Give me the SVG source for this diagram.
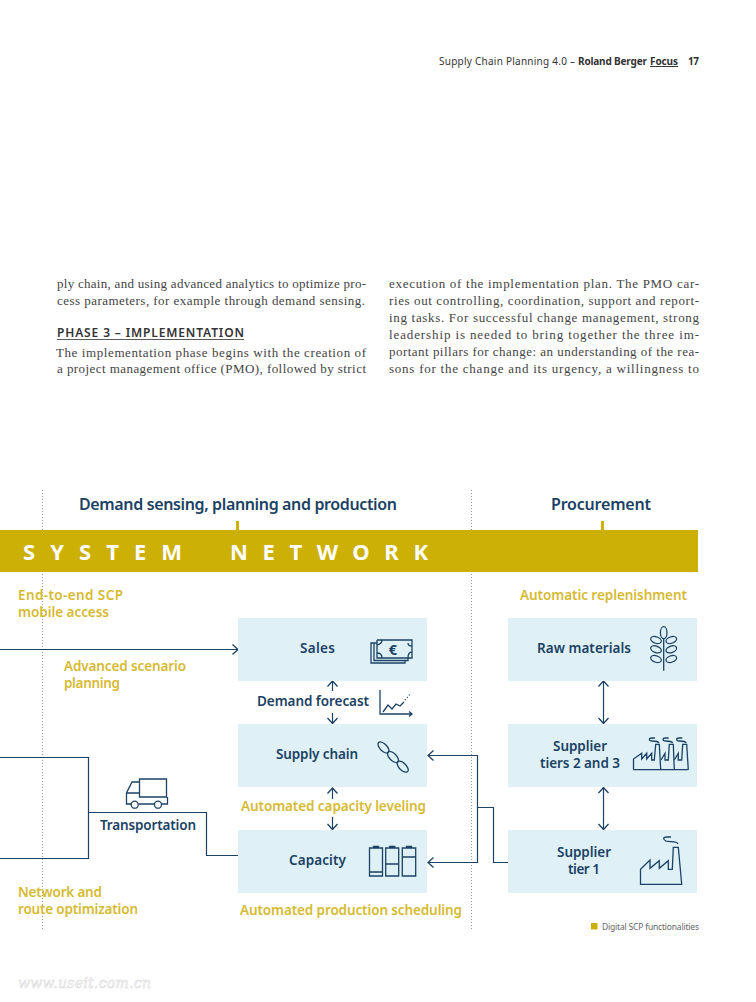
<svg xmlns="http://www.w3.org/2000/svg" width="756" height="1002" viewBox="0 0 756 1002">
<style>
text{font-family:"Noto Sans","Liberation Sans",sans-serif}
.body{font-family:"Liberation Serif",serif;font-size:13px;fill:#444}
.hd{font-size:10px;fill:#333}
.nb{font-size:13.500px;font-weight:600;fill:#1b4264}
.h{font-size:16px;font-weight:600;fill:#1b4264}
.g{font-size:13.500px;font-weight:600;fill:#d6ba32}
.band{font-size:22px;font-weight:700;fill:#fff}
.box{fill:#dff1f7}
.dot{stroke:#999;stroke-width:1;stroke-dasharray:1 2;fill:none}
.ln{stroke:#1b4264;stroke-width:1.2;fill:none}
.ic{stroke:#1b4264;stroke-width:1.300;fill:none}
.tick{fill:#cdb006}
</style>
<defs>
<marker id="a" viewBox="0 0 10 12" markerWidth="10" markerHeight="12" refX="9" refY="6" orient="auto-start-reverse" markerUnits="userSpaceOnUse"><path d="M3.500 1L9 6L3.500 11" fill="none" stroke="#1b4264" stroke-width="1.300"/></marker>
</defs>
<rect width="756" height="1002" fill="#fff"/>

<g id="header">
<text class="hd" x="439" y="65" textLength="136">Supply Chain Planning 4.0 –</text>
<text class="hd" x="578" y="65" textLength="69" style="font-weight:700">Roland Berger</text>
<text class="hd" x="650" y="65" textLength="28" style="font-weight:700" text-decoration="underline">Focus</text>
<text class="hd" x="688" y="65" textLength="11" style="font-weight:700">17</text>
</g>

<g id="body-text">
<text class="body" x="57" y="288" textLength="309">ply chain, and using advanced analytics to optimize pro-</text>
<text class="body" x="57" y="305" textLength="308">cess parameters, for example through demand sensing.</text>
<text x="57" y="337" textLength="187" style="font-size:12px;font-weight:600;fill:#333">PHASE 3 – IMPLEMENTATION</text>
<rect x="57" y="339" width="187" height="0.8" fill="#333"/>
<text class="body" x="56" y="357" textLength="310">The implementation phase begins with the creation of</text>
<text class="body" x="57" y="373" textLength="309">a project management office (PMO), followed by strict</text>
<text class="body" x="389" y="288" textLength="310">execution of the implementation plan. The PMO car-</text>
<text class="body" x="389" y="305" textLength="310">ries out controlling, coordination, support and report-</text>
<text class="body" x="389" y="322" textLength="310">ing tasks. For successful change management, strong</text>
<text class="body" x="389" y="339" textLength="310">leadership is needed to bring together the three im-</text>
<text class="body" x="389" y="356" textLength="310">portant pillars for change: an understanding of the rea-</text>
<text class="body" x="389" y="373" textLength="310">sons for the change and its urgency, a willingness to</text>
</g>

<g id="dividers">
<path class="dot" d="M42.500 490V930M471.500 490V930"/>
</g>

<g id="headings">
<text class="h" x="79" y="510" textLength="318">Demand sensing, planning and production</text>
<text class="h" x="551" y="510" textLength="100">Procurement</text>
</g>

<g id="system-network">
<rect class="tick" x="236" y="521" width="3" height="9"/>
<rect class="tick" x="601" y="521" width="3" height="9"/>
<rect x="0" y="530" width="698" height="42" fill="#cdb006"/>
<text class="band" x="23" y="560" textLength="159">SYSTEM</text>
<text class="band" x="230" y="560" textLength="198">NETWORK</text>
</g>

<g id="connectors">
<path class="ln" d="M0 649.500H238" marker-end="url(#a)"/>
<path class="ln" d="M0 757.500H88.500V858.500H0"/>
<path class="ln" d="M89 812.500H206.500V855.500H238.500"/>
<path class="ln" d="M428 755.500H477.500V862.500H428" marker-start="url(#a)" marker-end="url(#a)"/>
<path class="ln" d="M478 807.500H493.500V862.500H509"/>
<path class="ln" d="M332.500 691V681" marker-end="url(#a)"/>
<path class="ln" d="M332.500 713V723.500" marker-end="url(#a)"/>
<path class="ln" d="M332.500 799V788" marker-end="url(#a)"/>
<path class="ln" d="M332.500 817V829.500" marker-end="url(#a)"/>
<path class="ln" d="M603.500 681V723.500" marker-start="url(#a)" marker-end="url(#a)"/>
<path class="ln" d="M603.500 787.500V829.500" marker-start="url(#a)" marker-end="url(#a)"/>
</g>

<g id="sales">
<rect class="box" x="238" y="618" width="189" height="63"/>
<text class="nb" x="300" y="653" textLength="35">Sales</text>
<path class="ic" d="M377 640H412V646Q408 646 408 643M377 640V658H412V640M377 640H382Q382 644 377 645M412 652Q408 652 408 658M377 653Q382 653 382 658" stroke-width="1.500"/>
<path class="ic" d="M377 643H374V660.500H408V658M374 643H371V663H405V660.500" stroke-width="1.500"/>
<text x="393" y="654.500" text-anchor="middle" style="font-size:14.500px;font-weight:700;fill:#1b4264">€</text>
</g>

<g id="demand-forecast">
<text class="nb" x="257" y="706" textLength="112">Demand forecast</text>
<path class="ic" d="M380 690V714H411M409 711.500L412 714L409 716.500"/>
<path class="ic" d="M383 712L388 705L392 709L396 704L400 706L404 702"/>
<path class="ic" d="M405 700L411 693" stroke-dasharray="1 2"/>
</g>

<g id="supply-chain">
<rect class="box" x="238" y="724" width="189" height="63"/>
<text class="nb" x="276" y="759" textLength="82">Supply chain</text>
<ellipse class="ic" cx="383.500" cy="747.500" rx="7" ry="3.500" transform="rotate(45 383.500 747.500)"/>
<ellipse class="ic" cx="393" cy="757" rx="7" ry="3.500" transform="rotate(45 393 757)"/>
<ellipse class="ic" cx="402.700" cy="766.700" rx="7" ry="3.500" transform="rotate(45 402.700 766.700)"/>
</g>

<g id="transportation">
<text class="nb" x="100" y="830" textLength="96">Transportation</text>
<path class="ic" d="M139.500 779H166.500V797H139.500ZM139.500 782H132L126.500 793V804H131M138.500 804H154.500M161.500 804H167.500V797M126.500 793H139.500"/>
<circle class="ic" cx="134.700" cy="804.700" r="3.500"/>
<circle class="ic" cx="158" cy="804.700" r="3.500"/>
</g>

<g id="capacity">
<rect class="box" x="238" y="830" width="189" height="63"/>
<text class="nb" x="289" y="865" textLength="57">Capacity</text>
<path class="ic" d="M369.500 848H382.500V876H369.500ZM373.500 848V846.500H378.500V848M369.500 872H382.500"/>
<path class="ic" d="M385.700 848H398.700V876H385.700ZM389.700 848V846.500H394.700V848M385.700 864H398.700"/>
<path class="ic" d="M402.300 848H415.700V876H402.300ZM406.500 848V846.500H411.500V848M402.300 857H415.700"/>
</g>

<g id="raw-materials">
<rect class="box" x="508" y="618" width="189" height="63"/>
<text class="nb" x="537" y="653" textLength="94">Raw materials</text>
<path class="ic" d="M663.700 639V670.700"/>
<ellipse class="ic" cx="663.700" cy="632.700" rx="3.300" ry="6"/>
<ellipse class="ic" cx="656" cy="640" rx="5.500" ry="3.200" transform="rotate(20 656 640)"/>
<ellipse class="ic" cx="671.300" cy="640" rx="5.500" ry="3.200" transform="rotate(-20 671.300 640)"/>
<ellipse class="ic" cx="656" cy="649.300" rx="5.500" ry="3.200" transform="rotate(20 656 649.300)"/>
<ellipse class="ic" cx="671.300" cy="649.300" rx="5.500" ry="3.200" transform="rotate(-20 671.300 649.300)"/>
<ellipse class="ic" cx="656" cy="659" rx="5.500" ry="3.200" transform="rotate(20 656 659)"/>
<ellipse class="ic" cx="671.300" cy="659" rx="5.500" ry="3.200" transform="rotate(-20 671.300 659)"/>
</g>

<g id="supplier-tiers-2-3">
<rect class="box" x="508" y="724" width="189" height="63"/>
<text class="nb" x="553" y="751" textLength="54">Supplier</text>
<text class="nb" x="540" y="768" textLength="80">tiers 2 and 3</text>
<path class="ic" d="M633.500 769.700V759L641.700 753.300V759L646.700 753.300V759L651.700 753.300V760H654.300L655.700 744.300H659.300L660.700 769.700M633.500 769.700H688.300"/>
<path class="ic" d="M661 760L665 753.300V760H668.300L669.300 744.300H673.300L674.300 769.700"/>
<path class="ic" d="M674.300 760L678.300 753.300V760H681.700L682.700 744.300H686.700L688.300 769.700"/>
<path class="ic" d="M659 743C658 741 655 741 652 741C648.500 741 648.500 738 652 738H655M672.700 743C671.700 741 668.700 741 665.700 741C662.200 741 662.200 738 665.700 738H668.700M686.300 743C685.300 741 682.300 741 679.300 741C675.800 741 675.800 738 679.300 738H682.300"/>
</g>

<g id="supplier-tier-1">
<rect class="box" x="508" y="830" width="189" height="63"/>
<text class="nb" x="557" y="857" textLength="54">Supplier</text>
<text class="nb" x="568" y="874" textLength="32">tier 1</text>
<path class="ic" d="M640.500 884.300V869.300L650 860V868.300L659.300 860.700V868.300L668.300 860.700V869.300H672.300L673.300 847.300H678.300L681.700 884.300Z"/>
<path class="ic" d="M678 844C677 840 669 842.500 666 841C662.500 839 663 837 667 837H671"/>
</g>

<g id="functionality-labels">
<text class="g" x="18" y="600" textLength="105">End-to-end SCP</text>
<text class="g" x="18" y="617" textLength="91">mobile access</text>
<text class="g" x="64" y="671" textLength="122">Advanced scenario</text>
<text class="g" x="64" y="688" textLength="56">planning</text>
<text class="g" x="520" y="600" textLength="167">Automatic replenishment</text>
<text class="g" x="241" y="811" textLength="185">Automated capacity leveling</text>
<text class="g" x="240" y="915" textLength="222">Automated production scheduling</text>
<text class="g" x="18" y="897" textLength="84">Network and</text>
<text class="g" x="18" y="914" textLength="120">route optimization</text>
</g>

<g id="legend">
<rect x="591" y="923" width="6.500" height="6.500" fill="#cdb006"/>
<text x="602" y="929.500" textLength="97" style="font-size:8.500px;fill:#666">Digital SCP functionalities</text>
</g>

<g id="watermark">
<text x="18" y="988" textLength="133" style="font-family:'DejaVu Serif',serif;font-style:italic;font-size:14px;fill:#fff;stroke:#dadada;stroke-width:0.6">www.useit.com.cn</text>
</g>
</svg>
